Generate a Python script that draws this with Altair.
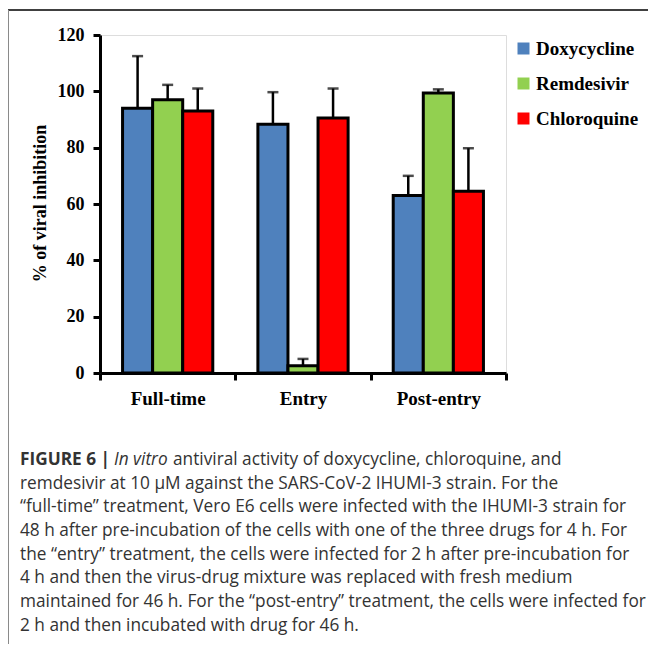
import altair as alt
import pandas as pd

treatments = ["Full-time", "Entry", "Post-entry"]
drugs = ["Doxycycline", "Remdesivir", "Chloroquine"]
colors = ["#4F81BD", "#92D050", "#FF0000"]

doxycycline = [94.0, 88.3, 63.0]
doxycycline_sd = [18.5, 11.4, 7.0]
remdesivir = [97.0, 2.6, 99.4]
remdesivir_sd = [5.3, 2.4, 1.3]
chloroquine = [93.0, 90.5, 64.5]
chloroquine_sd = [8.0, 10.5, 15.3]

caption_lines = [
    "remdesivir at 10 \u03bcM against the SARS-CoV-2 IHUMI-3 strain. For the",
    "\u201cfull-time\u201d treatment, Vero E6 cells were infected with the IHUMI-3 strain for",
    "48 h after pre-incubation of the cells with one of the three drugs for 4 h. For",
    "the \u201centry\u201d treatment, the cells were infected for 2 h after pre-incubation for",
    "4 h and then the virus-drug mixture was replaced with fresh medium",
    "maintained for 46 h. For the \u201cpost-entry\u201d treatment, the cells were infected for",
    "2 h and then incubated with drug for 46 h.",
]

rows = []
for drug, vals, sds in [
    ("Doxycycline", doxycycline, doxycycline_sd),
    ("Remdesivir", remdesivir, remdesivir_sd),
    ("Chloroquine", chloroquine, chloroquine_sd),
]:
    for t, v, s in zip(treatments, vals, sds):
        rows.append({"treatment": t, "drug": drug, "value": v, "top": v + s})
df = pd.DataFrame(rows)

serif = "Liberation Serif"
sans = "Open Sans"
cap_size = 17.25

x_enc = alt.X(
    "treatment:N",
    sort=treatments,
    scale=alt.Scale(paddingInner=0, paddingOuter=0),
    axis=alt.Axis(
        title=None, labelAngle=0, tickBand="extent", tickSize=7, labelPadding=9,
        labelFont=serif, labelFontWeight="bold", labelFontSize=19, labelColor="black",
        domainColor="black", domainWidth=3, tickColor="black", tickWidth=3,
    ),
)
xo_enc = alt.XOffset(
    "drug:N", sort=drugs, scale=alt.Scale(domain=drugs, paddingInner=0, paddingOuter=0.75)
)
y_enc = alt.Y(
    "value:Q",
    scale=alt.Scale(domain=[0, 120], nice=False),
    axis=alt.Axis(
        title="% of viral inhibition", values=[0, 20, 40, 60, 80, 100, 120],
        tickSize=7, labelPadding=9, grid=False,
        labelFont=serif, labelFontWeight="bold", labelFontSize=18, labelColor="black",
        titleFont=serif, titleFontWeight="bold", titleFontSize=18, titleColor="black",
        titleX=-60, titleY=168, titleAngle=270, titleBaseline="middle", titleAlign="center",
        domainColor="black", domainWidth=3, tickColor="black", tickWidth=3,
    ),
)

base = alt.Chart(df)

bars = base.mark_bar(stroke="black", strokeWidth=3).encode(
    x=x_enc,
    xOffset=xo_enc,
    y=y_enc,
    color=alt.Color(
        "drug:N",
        sort=drugs,
        scale=alt.Scale(domain=drugs, range=colors),
        legend=alt.Legend(
            orient="none", legendX=414, legendY=4, title=None,
            symbolType="square", symbolSize=144, symbolStrokeWidth=0,
            labelFont=serif, labelFontWeight="bold", labelFontSize=19, labelColor="black",
            rowPadding=15, labelOffset=3, padding=0,
        ),
    ),
)

err = base.mark_rule(color="black", strokeWidth=2.5).encode(
    x=alt.X("treatment:N", sort=treatments),
    xOffset=alt.XOffset("drug:N", sort=drugs),
    y="value:Q",
    y2="top:Q",
)

caps = base.mark_tick(color="black", thickness=2.5).encode(
    x=alt.X("treatment:N", sort=treatments),
    xOffset=alt.XOffset("drug:N", sort=drugs),
    y="top:Q",
    size=alt.value(11),
)

frame_top = alt.Chart().mark_rule(color="black", strokeWidth=1.5).encode(
    x=alt.value(-92), x2=alt.value(560), y=alt.value(-25)
)
frame_left = alt.Chart().mark_rule(color="#8a8a8a", strokeWidth=1).encode(
    x=alt.value(-91.5), y=alt.value(-25), y2=alt.value(640)
)

cap_color = "#333333"
cap1a = alt.Chart().mark_text(
    text="FIGURE 6 |", font=sans, fontWeight="bold", fontSize=cap_size, color=cap_color,
    align="left", baseline="alphabetic",
).encode(x=alt.value(-80), y=alt.value(430))
cap1b = alt.Chart().mark_text(
    text="In vitro", font=sans, fontStyle="italic", fontSize=cap_size, color=cap_color,
    align="left", baseline="alphabetic",
).encode(x=alt.value(14), y=alt.value(430))
cap1c = alt.Chart().mark_text(
    text="antiviral activity of doxycycline, chloroquine, and", font=sans, fontSize=cap_size,
    color=cap_color, align="left", baseline="alphabetic",
).encode(x=alt.value(73), y=alt.value(430))
cap_rest = alt.Chart().mark_text(
    text=caption_lines, font=sans, fontSize=cap_size, color=cap_color, lineHeight=23.7,
    align="left", baseline="alphabetic",
).encode(x=alt.value(-80), y=alt.value(453.7))

chart = alt.layer(
    bars, err, caps, frame_top, frame_left, cap1a, cap1b, cap1c, cap_rest
).properties(
    width=406,
    height=338,
    padding={"left": 92, "top": 27, "right": 142, "bottom": 271},
    autosize=alt.AutoSizeParams(type="none"),
).configure_view(stroke=None).configure(background="white")

chart.save("out.html", embed_options={"renderer": "svg", "actions": False})
